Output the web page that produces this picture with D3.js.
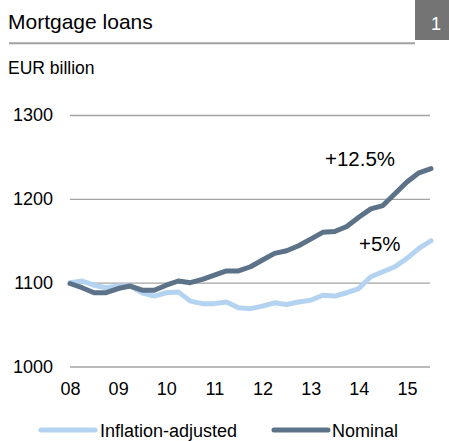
<!DOCTYPE html>
<html>
<head>
<meta charset="utf-8">
<script src="https://cdn.jsdelivr.net/npm/d3@7"></script>
<style>
  html, body { margin: 0; padding: 0; background: #fff; }
  svg { display: block; font-family: "Liberation Sans", Arial, sans-serif; }
</style>
</head>
<body>
<svg id="chart" width="449" height="441"></svg>
<script>
const title = "Mortgage loans";
const chartNumber = "1";
const unitLabel = "EUR billion";

const quarters = [
  "2008Q1","2008Q2","2008Q3","2008Q4",
  "2009Q1","2009Q2","2009Q3","2009Q4",
  "2010Q1","2010Q2","2010Q3","2010Q4",
  "2011Q1","2011Q2","2011Q3","2011Q4",
  "2012Q1","2012Q2","2012Q3","2012Q4",
  "2013Q1","2013Q2","2013Q3","2013Q4",
  "2014Q1","2014Q2","2014Q3","2014Q4",
  "2015Q1","2015Q2","2015Q3"
];

const inflationAdjusted = [1100,1102,1097,1094,1096,1096,1088,1084,1088,1089,1078,1075,1075,1077,1070,1069,1072,1076,1074,1077,1079,1085,1084,1088,1093,1107,1113,1119,1129,1141,1150];
const nominal = [1099,1094,1088,1088,1093,1096,1091,1091,1097,1102,1100,1104,1109,1114,1114,1119,1127,1135,1138,1144,1152,1160,1161,1167,1178,1188,1192,1206,1220,1231,1236];

const yTicks = [1000, 1100, 1200, 1300];
const xTickQuarters = ["2008Q1","2009Q1","2010Q1","2011Q1","2012Q1","2013Q1","2014Q1","2015Q1"];
const xTickLabels = ["08","09","10","11","12","13","14","15"];

const seriesNames = ["Inflation-adjusted", "Nominal"];
const annotations = ["+12.5%", "+5%"];

const colLight = "#b4d3f0";
const colDark = "#5b7288";

const svg = d3.select("#chart");

// Header
svg.append("text").attr("x", 8).attr("y", 28.5)
  .attr("font-size", 21).attr("fill", "#000").text(title);
svg.append("line").attr("x1", 9).attr("x2", 415).attr("y1", 43.3).attr("y2", 43.3)
  .attr("stroke", "#a0a0a0").attr("stroke-width", 2);
svg.append("rect").attr("x", 415).attr("y", 0).attr("width", 34).attr("height", 40)
  .attr("fill", "#747474");
svg.append("text").attr("x", 436).attr("y", 29.5).attr("text-anchor", "middle")
  .attr("font-size", 18).attr("fill", "#fff").text(chartNumber);

svg.append("text").attr("x", 8).attr("y", 74)
  .attr("font-size", 17.5).attr("fill", "#000").text(unitLabel);

// Scales
const x = d3.scalePoint().domain(quarters).range([70, 431]);
const y = d3.scaleLinear().domain([1000, 1300]).range([366.5, 115]);

// Gridlines + y labels
const yAxis = d3.axisLeft(y).tickValues(yTicks).tickSize(-360).tickPadding(17)
  .tickFormat(d3.format("d"));
const gy = svg.append("g").attr("transform", "translate(70,0)").call(yAxis);
gy.select(".domain").remove();
gy.selectAll(".tick line").attr("stroke", "#a3a3a3").attr("stroke-width", 1.3);
gy.selectAll(".tick text").attr("font-size", 18).attr("fill", "#000")
  .attr("font-family", "Liberation Sans, Arial, sans-serif");

// X labels
const xAxis = d3.axisBottom(x).tickValues(xTickQuarters).tickSize(0).tickPadding(15.5)
  .tickFormat(q => xTickLabels[xTickQuarters.indexOf(q)]);
const gx = svg.append("g").attr("transform", `translate(0,${y(1000)})`).call(xAxis);
gx.select(".domain").remove();
gx.selectAll(".tick text").attr("font-size", 18).attr("fill", "#000")
  .attr("font-family", "Liberation Sans, Arial, sans-serif");

// Lines
const line = d3.line().x((d, i) => x(quarters[i])).y(d => y(d));
svg.append("path").datum(inflationAdjusted).attr("d", line)
  .attr("fill", "none").attr("stroke", colLight).attr("stroke-width", 5)
  .attr("stroke-linejoin", "round").attr("stroke-linecap", "round");
svg.append("path").datum(nominal).attr("d", line)
  .attr("fill", "none").attr("stroke", colDark).attr("stroke-width", 5)
  .attr("stroke-linejoin", "round").attr("stroke-linecap", "round");

// Annotations
svg.append("text").attr("x", 325).attr("y", 166).attr("font-size", 20.5)
  .attr("fill", "#000").text(annotations[0]);
svg.append("text").attr("x", 359).attr("y", 251).attr("font-size", 20.5)
  .attr("fill", "#000").text(annotations[1]);

// Legend
const legend = [
  { name: seriesNames[0], color: colLight, x1: 41, x2: 95, tx: 100 },
  { name: seriesNames[1], color: colDark, x1: 274, x2: 328, tx: 332 }
];
legend.forEach(l => {
  svg.append("line").attr("x1", l.x1).attr("x2", l.x2).attr("y1", 430).attr("y2", 430)
    .attr("stroke", l.color).attr("stroke-width", 5).attr("stroke-linecap", "round");
  svg.append("text").attr("x", l.tx).attr("y", 436.5).attr("font-size", 18)
    .attr("fill", "#000").text(l.name);
});
</script>
</body>
</html>
